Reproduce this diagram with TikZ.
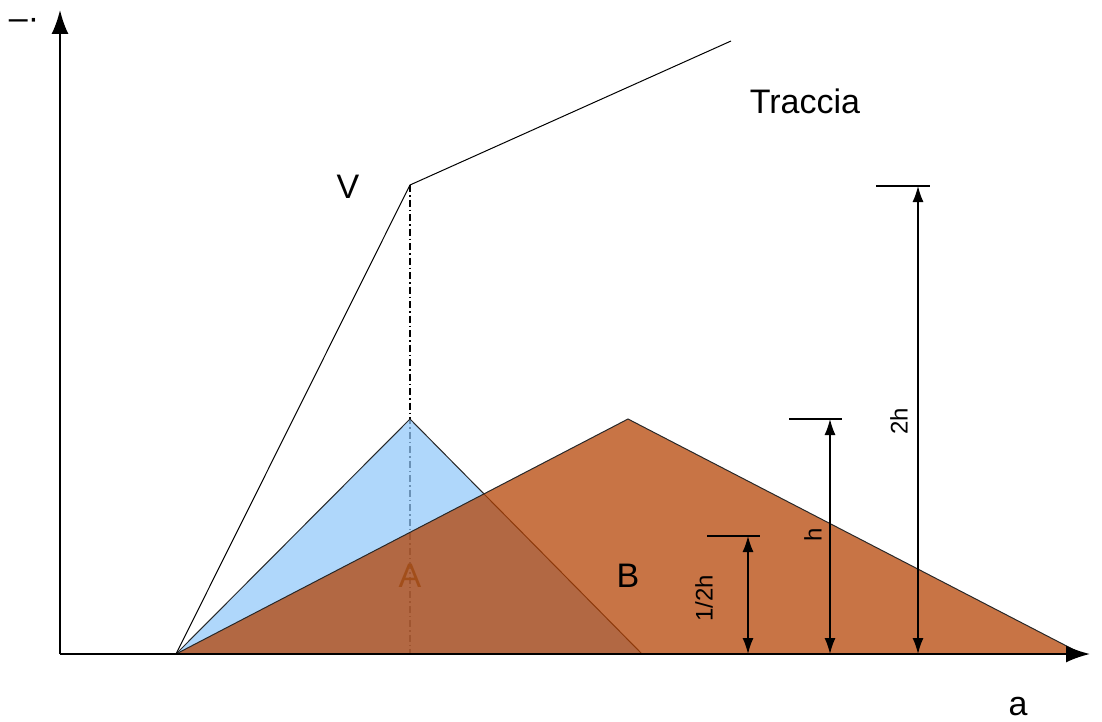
\documentclass[tikz,border=0pt]{standalone}
\usepackage{fontspec}
\setmainfont{Liberation Sans}
\usepackage{tikz}
\usetikzlibrary{arrows.meta}
\definecolor{peakBlue}{RGB}{146,200,249}
\definecolor{pileBrown}{RGB}{180,64,0}
\definecolor{labelBrown}{RGB}{162,78,26}
\definecolor{ink}{RGB}{40,40,40}
\tikzset{
  axis/.style={line width=1.8pt, -{Latex[length=24pt,width=17pt]}},
  trace/.style={draw=black, line width=1pt},
  guide/.style={line width=1.1pt, dash pattern=on 7pt off 3pt on 1.5pt off 3pt},
  pile/.style={draw=ink, line width=1pt, fill opacity=0.73},
  dim/.style={line width=1.4pt, {Latex[length=16pt,width=11pt]}-{Latex[length=16pt,width=11pt]}},
  tickmark/.style={line width=1.4pt},
  bigLabel/.style={font=\fontsize{34}{40}\selectfont, inner sep=0pt},
  dimLabel/.style={font=\fontsize{24}{28}\selectfont, rotate=90, inner sep=0pt}
}

\begin{document}
\begin{tikzpicture}[x=1pt, y=-1pt]
  \useasboundingbox (0,0) rectangle (1102,722);

  \coordinate (origin) at (60,654);
  \coordinate (yTip) at (60,10);
  \coordinate (xTip) at (1090,654);
  \coordinate (start) at (176,654);
  \coordinate (vertex) at (410,185);
  \coordinate (traceEnd) at (731,41);
  \coordinate (foot) at (410,654);
  \coordinate (blueTop) at (410,419);
  \coordinate (blueEnd) at (642,654);
  \coordinate (brownTop) at (628,419);
  \coordinate (brownEnd) at (1082,654);

  % guide from the vertex down to the axis
  \draw[guide] (vertex) -- (foot);

  % the two piles
  \draw[pile, fill=peakBlue] (start) -- (blueTop) -- (blueEnd) -- cycle;
  \draw[pile, fill=pileBrown] (start) -- (brownTop) -- (brownEnd) -- cycle;
  \node[bigLabel, text=labelBrown] (aLabel) at (410,576) {A};
  \node[bigLabel] (bLabel) at (628,576) {B};

  % trace
  \draw[trace] (start) -- (vertex) -- (traceEnd);
  \node[bigLabel] (vLabel) at (348,187) {V};
  \node[bigLabel] (traceLabel) at (805,101) {Traccia};

  % axes
  \draw[axis] (origin) -- (yTip);
  \draw[axis] (origin) -- (xTip);
  \node[bigLabel] (yLabel) at (24,24) {–·};
  \node[bigLabel] (xLabel) at (1018,707) {a};

  % heights
  \coordinate (halfTop) at (748,536);
  \coordinate (halfBot) at (748,654);
  \coordinate (hTop) at (830,419);
  \coordinate (hBot) at (830,654);
  \coordinate (twoTop) at (918,186);
  \coordinate (twoBot) at (918,654);
  \draw[tickmark] (707,536) -- (760,536);
  \draw[tickmark] (789,419) -- (842,419);
  \draw[tickmark] (876,186) -- (930,186);
  \draw[dim] (halfBot) -- (halfTop);
  \draw[dim] (hBot) -- (hTop);
  \draw[dim] (twoBot) -- (twoTop);
  \node[dimLabel] (halfLabel) at (704,598) {1/2h};
  \node[dimLabel] (hLabel) at (813,535) {h};
  \node[dimLabel] (twoLabel) at (899,421) {2h};
\end{tikzpicture}
\end{document}
